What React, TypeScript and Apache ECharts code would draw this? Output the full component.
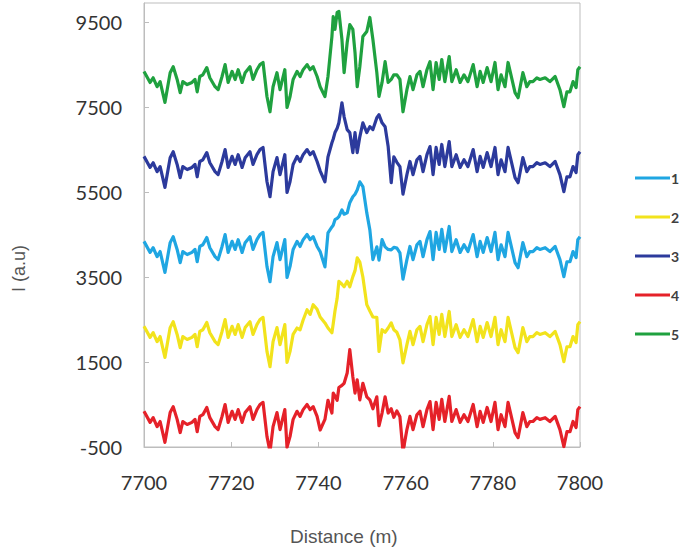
import React, { useEffect, useRef } from "react";
import * as echarts from "echarts";

// Distance (m) sample positions shared by all series
const DIST = [
  7700.0, 7701.4, 7702.1, 7703.0, 7703.7, 7704.8, 7706.0, 7706.7, 7707.6, 7708.3,
  7708.9, 7709.9, 7711.0, 7711.7, 7712.2, 7712.8, 7713.5, 7714.4, 7715.1, 7716.3,
  7717.0, 7717.9, 7718.6, 7719.3, 7720.2, 7720.9, 7721.6, 7722.5, 7723.2, 7724.3,
  7725.0, 7725.9, 7726.6, 7727.3, 7728.2, 7728.9, 7729.6, 7730.5, 7731.2, 7732.3,
  7732.8, 7733.5, 7734.2, 7735.1, 7735.8, 7736.5, 7737.4, 7738.1, 7738.8, 7739.7,
  7740.4, 7741.5, 7742.2, 7743.1, 7743.4, 7743.8, 7744.3, 7744.7, 7745.4, 7745.9,
  7746.6, 7747.2, 7747.9, 7748.4, 7748.9, 7749.5, 7750.2, 7751.1, 7751.8, 7752.5,
  7753.4, 7753.9, 7754.6, 7755.3, 7756.0, 7756.7, 7757.3, 7758.0, 7758.7, 7759.4,
  7760.3, 7761.0, 7761.7, 7762.6, 7763.3, 7764.0, 7764.9, 7765.6, 7766.3, 7767.0,
  7767.7, 7768.3, 7769.0, 7770.0, 7770.6, 7771.6, 7772.5, 7773.4, 7774.3, 7775.5,
  7776.4, 7777.1, 7777.8, 7778.7, 7779.6, 7780.5, 7781.2, 7781.9, 7782.8, 7783.5,
  7784.4, 7785.1, 7785.8, 7786.9, 7787.8, 7788.5, 7789.2, 7790.1, 7790.8, 7792.0,
  7793.1, 7794.3, 7795.4, 7796.3, 7797.0, 7797.7, 7798.4, 7799.1, 7799.5, 7800.0,
];

// Series "1" (light blue)
const S1 = [
  4340, 4080, 4190, 3980, 4100, 3610, 4310, 4450, 4150, 3840,
  4100, 4030, 4080, 4150, 3860, 4220, 4260, 4430, 4190, 3980,
  3910, 4220, 4500, 4080, 4340, 4150, 4380, 4080, 4310, 4450,
  4150, 4380, 4500, 4550, 3750, 3390, 3980, 4310, 3910, 4380,
  3490, 3750, 4150, 4340, 4220, 4380, 4500, 4380, 4450, 4220,
  4100, 3740, 4540, 4680, 4720, 4850, 4880, 4920, 5080, 4980,
  5010, 5250, 5390, 5450, 5550, 5740, 5630, 5010, 4610, 3910,
  4210, 3900, 4380, 4210, 4150, 4140, 4200, 4180, 4070, 3450,
  3910, 4220, 3910, 4260, 4340, 3980, 4380, 4570, 3910, 4550,
  4150, 4620, 4100, 4690, 4100, 4380, 4080, 4260, 4100, 4500,
  3980, 4340, 4080, 4430, 4100, 4550, 3910, 4260, 3980, 4550,
  4150, 3840, 3720, 4310, 3980, 4100, 4100, 4190, 4150, 4190,
  4100, 4220, 3910, 3510, 3860, 3860, 4100, 3960, 4380, 4450,
];

// Series "2" (yellow)
const S2 = [
  2340, 2080, 2190, 1980, 2100, 1610, 2310, 2450, 2150, 1840,
  2100, 2030, 2080, 2150, 1860, 2220, 2260, 2430, 2190, 1980,
  1910, 2220, 2500, 2080, 2340, 2150, 2380, 2080, 2310, 2450,
  2150, 2380, 2500, 2550, 1750, 1390, 1980, 2310, 1910, 2380,
  1490, 1750, 2150, 2300, 2260, 2490, 2730, 2620, 2850, 2740,
  2560, 2420, 2300, 2190, 2400, 2700, 3000, 3400, 3330, 3270,
  3400, 3270, 3510, 3650, 3950, 3850, 3500, 2850, 2700, 2560,
  2550, 1750, 2260, 2200, 2300, 2420, 2260, 2200, 2020, 1480,
  1910, 2220, 1910, 2260, 2340, 1980, 2380, 2570, 1910, 2550,
  2150, 2620, 2100, 2690, 2100, 2380, 2080, 2260, 2100, 2500,
  1980, 2340, 2080, 2430, 2100, 2550, 1910, 2260, 1980, 2550,
  2150, 1840, 1720, 2310, 1980, 2100, 2100, 2190, 2150, 2190,
  2100, 2220, 1910, 1510, 1860, 1860, 2100, 1960, 2380, 2450,
];

// Series "3" (dark blue)
const S3 = [
  6340, 6080, 6190, 5980, 6100, 5610, 6310, 6450, 6150, 5840,
  6100, 6030, 6080, 6150, 5860, 6220, 6260, 6430, 6190, 5980,
  5910, 6220, 6500, 6080, 6340, 6150, 6380, 6080, 6310, 6450,
  6150, 6380, 6500, 6550, 5750, 5390, 5980, 6310, 5910, 6380,
  5490, 5750, 6150, 6340, 6220, 6380, 6500, 6380, 6450, 6220,
  6000, 5740, 6330, 6660, 6750, 6900, 7000, 7130, 7600, 7270,
  6970, 6900, 6430, 6900, 6430, 6800, 7130, 6900, 7040, 6970,
  7250, 7320, 7130, 7040, 6570, 5720, 6330, 6200, 6100, 5450,
  5910, 6220, 5910, 6260, 6340, 5980, 6380, 6570, 5910, 6550,
  6150, 6620, 6100, 6690, 6100, 6380, 6080, 6260, 6100, 6500,
  5980, 6340, 6080, 6430, 6100, 6550, 5910, 6260, 5980, 6550,
  6150, 5840, 5720, 6310, 5980, 6100, 6100, 6190, 6150, 6190,
  6100, 6220, 5910, 5510, 5860, 5860, 6100, 5960, 6380, 6450,
];

// Series "4" (red)
const S4 = [
  340, 80, 190, -20, 100, -390, 310, 450, 150, -160,
  100, 30, 80, 150, -140, 220, 260, 430, 190, -20,
  -90, 220, 500, 80, 340, 150, 380, 80, 310, 450,
  150, 380, 500, 550, -250, -610, -20, 310, -90, 380,
  -510, -250, 150, 340, 220, 380, 500, 380, 450, 220,
  -100, 150, 600, 300, 770, 700, 600, 900, 950, 1000,
  1240, 1790, 1150, 770, 1080, 610, 1000, 680, 610, 400,
  680, 0, 300, 680, 300, 400, 200, 350, 210, -610,
  -90, 220, -90, 260, 340, -20, 380, 570, -90, 550,
  150, 620, 100, 690, 100, 380, 80, 260, 100, 500,
  -20, 340, 80, 430, 100, 550, -90, 260, -20, 550,
  150, -160, -280, 310, -20, 100, 100, 190, 150, 190,
  100, 220, -90, -490, -140, -140, 100, -40, 380, 450,
];

// Series "5" (green)
const S5 = [
  8340, 8080, 8190, 7980, 8100, 7610, 8310, 8450, 8150, 7840,
  8100, 8030, 8080, 8150, 7860, 8220, 8260, 8430, 8190, 7980,
  7910, 8220, 8500, 8080, 8340, 8150, 8380, 8080, 8310, 8450,
  8150, 8380, 8500, 8550, 7750, 7390, 7980, 8310, 7910, 8380,
  7490, 7750, 8150, 8340, 8220, 8380, 8500, 8380, 8450, 8220,
  7980, 7750, 8220, 9160, 9630, 9330, 9730, 9750, 9090, 8310,
  9020, 9440, 9330, 8780, 7980, 8450, 9160, 9280, 9610, 9090,
  8310, 7750, 8080, 8570, 8080, 8150, 8260, 8260, 8150, 7390,
  7910, 8220, 7910, 8260, 8340, 7980, 8380, 8570, 7910, 8550,
  8150, 8620, 8100, 8690, 8100, 8380, 8080, 8260, 8100, 8500,
  7980, 8340, 8080, 8430, 8100, 8550, 7910, 8260, 7980, 8550,
  8150, 7840, 7720, 8310, 7980, 8100, 8100, 8190, 8150, 8190,
  8100, 8220, 7910, 7510, 7860, 7860, 8100, 7960, 8380, 8450,
];

const SERIES_NAMES = ["1", "2", "3", "4", "5"];
const SERIES_VALUES = [S1, S2, S3, S4, S5];
const SERIES_COLORS = ["#1fa6e2", "#f2e31c", "#2c3a9c", "#e52129", "#1fa13f"];

const Y_TICKS = [-500, 1500, 3500, 5500, 7500, 9500];
const X_MIN = 7700;
const X_MAX = 7800;
const X_STEP = 20;

export default function App() {
  const ref = useRef<HTMLDivElement>(null);
  useEffect(() => {
    const chart = echarts.init(ref.current!, null, { renderer: "svg" });
    const labelFont = "Lato, 'Open Sans', sans-serif";
    chart.setOption({
      animation: false,
      backgroundColor: "#ffffff",
      grid: {
        left: 144,
        right: 116,
        top: 3,
        bottom: 108,
        show: true,
        borderColor: "#bdbdbd",
        borderWidth: 1,
        containLabel: false,
      },
      legend: {
        orient: "vertical",
        left: 630,
        top: 166,
        itemWidth: 35,
        itemHeight: 3,
        itemGap: 25,
        icon: "rect",
        data: SERIES_NAMES,
        textStyle: {
          color: "#404040",
          fontSize: 14,
          fontWeight: "bold",
          fontFamily: labelFont,
          lineHeight: 14,
          padding: [0, 0, 0, -4],
        },
      },
      xAxis: {
        type: "value",
        min: X_MIN,
        max: X_MAX,
        interval: X_STEP,
        axisLine: { show: true, onZero: false, lineStyle: { color: "#bdbdbd" } },
        axisTick: { show: true, inside: true, length: 5, lineStyle: { color: "#bdbdbd" } },
        splitLine: { show: false },
        axisLabel: {
          color: "#333",
          fontSize: 20,
          fontFamily: labelFont,
          margin: 25,
          formatter: (v: number) => String(v),
        },
      },
      yAxis: {
        type: "value",
        min: -500,
        max: 9950,
        axisLine: { show: true, onZero: false, lineStyle: { color: "#bdbdbd" } },
        axisTick: {
          show: true,
          inside: true,
          length: 5,
          customValues: Y_TICKS,
          lineStyle: { color: "#bdbdbd" },
        },
        splitLine: { show: false },
        axisLabel: {
          customValues: Y_TICKS,
          color: "#333",
          fontSize: 20,
          fontFamily: labelFont,
          margin: 22,
          formatter: (v: number) => String(v),
        },
      },
      graphic: [
        {
          type: "text",
          left: 290,
          top: 527,
          style: {
            text: "Distance (m)",
            fill: "#555",
            fontSize: 19,
            fontFamily: "'Liberation Sans', Arial, sans-serif",
          },
        },
        {
          type: "text",
          x: 10,
          y: 292,
          rotation: Math.PI / 2,
          style: {
            text: "I (a.u)",
            fill: "#555",
            fontSize: 18,
            fontFamily: "'Liberation Sans', Arial, sans-serif",
          },
        },
      ],
      series: SERIES_NAMES.map((name, k) => ({
        name,
        type: "line",
        data: DIST.map((d, i) => [d, SERIES_VALUES[k][i]]),
        showSymbol: false,
        symbol: "none",
        clip: true,
        lineStyle: { color: SERIES_COLORS[k], width: 3.2, join: "round" },
        itemStyle: { color: SERIES_COLORS[k] },
      })),
    });
    return () => chart.dispose();
  }, []);
  return (
    <div
      ref={ref}
      style={{ position: "fixed", left: 0, top: 0, width: 696, height: 555, background: "#fff" }}
    />
  );
}
